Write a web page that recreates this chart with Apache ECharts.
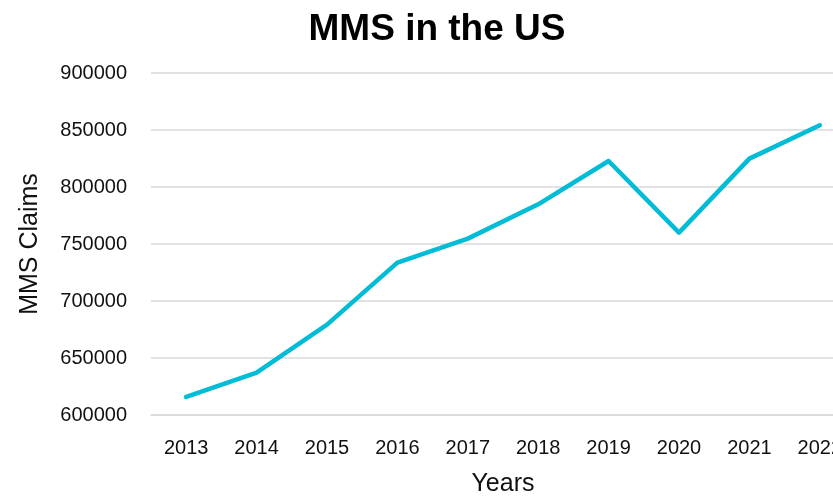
<!DOCTYPE html>
<html>
<head>
<meta charset="utf-8">
<script src="https://cdn.jsdelivr.net/npm/echarts@6/dist/echarts.min.js"></script>
<style>
    html, body { margin: 0; padding: 0; background: #fff; }
    #chart { width: 833px; height: 497px; }
</style>
</head>
<body>
<div id="chart"></div>
<script>
var years = ['2013', '2014', '2015', '2016', '2017', '2018', '2019', '2020', '2021', '2022'];
var claims = [615800, 637200, 679300, 733700, 754700, 784800, 822800, 760000, 824900, 854100];
var yTicks = [600000, 650000, 700000, 750000, 800000, 850000, 900000];

var FONT = '"Liberation Sans", Arial, sans-serif';

var myChart = echarts.init(document.getElementById('chart'));
var option = {
    animation: false,
    title: {
        text: 'MMS in the US',
        left: 432,
        textAlign: 'center',
        top: 6,
        textStyle: {
            fontFamily: FONT,
            fontWeight: 'bold',
            fontSize: 37,
            color: '#000'
        }
    },
    grid: {
        left: 151,
        right: -22,
        top: 73,
        bottom: 82,
        containLabel: false,
        outerBoundsMode: 'none'
    },
    xAxis: {
        type: 'category',
        data: years,
        boundaryGap: true,
        name: 'Years',
        nameLocation: 'middle',
        nameGap: 57,
        nameTextStyle: { fontFamily: FONT, fontSize: 25, color: '#111' },
        axisLine: { show: true, lineStyle: { color: '#d9d9d9', width: 1.5 } },
        axisTick: { show: false },
        axisLabel: { fontFamily: FONT, fontSize: 20, color: '#111', margin: 23 }
    },
    yAxis: {
        type: 'value',
        min: yTicks[0],
        max: yTicks[yTicks.length - 1],
        interval: 50000,
        name: 'MMS Claims',
        nameLocation: 'middle',
        nameRotate: 90,
        nameGap: 108,
        nameTextStyle: { fontFamily: FONT, fontSize: 25, color: '#111' },
        axisLine: { show: false },
        axisTick: { show: false },
        axisLabel: {
            fontFamily: FONT, fontSize: 20, color: '#111', margin: 24,
            formatter: function (v) { return String(v); }
        },
        splitLine: { lineStyle: { color: '#d9d9d9', width: 1.5 } }
    },
    series: [{
        type: 'line',
        data: claims,
        showSymbol: false,
        symbol: 'none',
        lineStyle: { color: '#00bcd6', width: 4.5, cap: 'round', join: 'round' },
        itemStyle: { color: '#00bcd6' }
    }]
};
myChart.setOption(option);
</script>
</body>
</html>
